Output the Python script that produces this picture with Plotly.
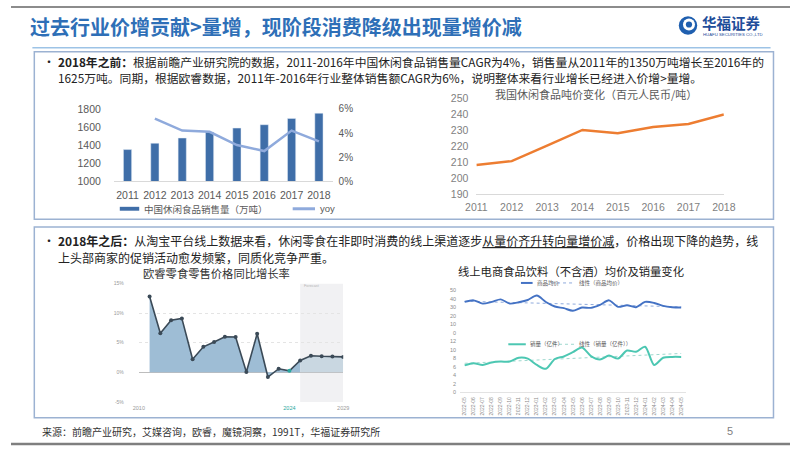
import numpy as np
import plotly.graph_objects as go

W, H = 802, 452
CJK = "Noto Sans CJK SC"
SANS = "Liberation Sans, Noto Sans CJK SC"

# chart A: 中国休闲食品销售量（万吨）与 yoy
years_a = ['2011', '2012', '2013', '2014', '2015', '2016', '2017', '2018']
volume_a = [1350, 1420, 1478, 1545, 1588, 1625, 1695, 1752]
yoy_years = years_a[1:]
yoy_a = [0.052, 0.042, 0.041, 0.030, 0.025, 0.042, 0.033]

# chart B: 我国休闲食品吨价变化（百元人民币/吨）
price_b = [208.2, 210.6, 220.3, 230.2, 228.2, 232.0, 234.0, 240.0]

# chart C: 欧睿零食零售价格同比增长率 (%)
years_c = list(range(2011, 2030))
growth_c = [12.8, 6.6, 8.8, 9.1, 2.2, 4.3, 5.1, 6.0, 5.95, 0.05, 6.5, -0.8,
            0.6, 0.25, 2.0, 2.8, 2.7, 2.65, 2.6]
forecast_from = 2025

# chart D: 线上电商食品饮料（不含酒）均价及销量变化
months_d = ['2022-05', '2022-06', '2022-07', '2022-08', '2022-09', '2022-10',
            '2022-11', '2022-12', '2023-01', '2023-02', '2023-03', '2023-04',
            '2023-05', '2023-06', '2023-07', '2023-08', '2023-09', '2023-10',
            '2023-11', '2023-12', '2024-01', '2024-02', '2024-03', '2024-04',
            '2024-05']
avg_price_d = [36.2, 38.1, 34.2, 36.2, 39.2, 34.2, 35.8, 38.5, 43.8, 36.2,
               30.8, 28.8, 25.8, 29.6, 29.2, 32.7, 38.1, 30.4, 32.3, 30.0,
               36.2, 35.0, 31.5, 30.0, 29.6]
sales_d = [6.3, 6.8, 6.4, 7.0, 7.2, 7.2, 8.1, 7.9, 6.4, 5.5, 7.8, 8.4, 9.4,
           10.5, 8.5, 7.7, 8.6, 7.9, 9.8, 9.5, 10.7, 6.4, 8.1, 8.3, 8.3]


def X(p):
    return p / W


def Y(p):
    return 1 - p / H


def dom_x(a, b):
    return [X(a), X(b)]


def dom_y(top, bottom):
    return [Y(bottom), Y(top)]


fig = go.Figure()

# ---- chart A
fig.add_trace(go.Bar(x=years_a, y=volume_a, xaxis='x', yaxis='y', width=0.3,
                     marker_color='#3F6EA8', showlegend=False))
fig.add_trace(go.Scatter(x=yoy_years, y=yoy_a, xaxis='x', yaxis='y2', mode='lines',
                         line=dict(color='#8FAADC', width=2.5), showlegend=False))

# ---- chart B
fig.add_trace(go.Scatter(x=years_a, y=price_b, xaxis='x3', yaxis='y3', mode='lines',
                         line=dict(color='#ED7D31', width=2.5), showlegend=False))

# ---- chart C
k = years_c.index(forecast_from)
fig.add_trace(go.Scatter(x=years_c[:k + 1], y=growth_c[:k + 1], xaxis='x4', yaxis='y4',
                         mode='none', fill='tozeroy', fillcolor='#9EBDD5',
                         showlegend=False))
fig.add_trace(go.Scatter(x=years_c[k:], y=growth_c[k:], xaxis='x4', yaxis='y4',
                         mode='none', fill='tozeroy', fillcolor='#C9D7E1',
                         showlegend=False))
mcols = ['#2BA8A0' if y == 2024 else '#3B4A57' for y in years_c]
fig.add_trace(go.Scatter(x=years_c, y=growth_c, xaxis='x4', yaxis='y4',
                         mode='lines+markers', line=dict(color='#3B4A57', width=1.6),
                         marker=dict(size=4, color=mcols), showlegend=False))

# ---- chart D
idx = np.arange(len(months_d))
tr_p = np.polyval(np.polyfit(idx, avg_price_d, 1), idx)
tr_s = np.polyval(np.polyfit(idx, sales_d, 1), idx)
fig.add_trace(go.Scatter(x=months_d, y=tr_p, xaxis='x5', yaxis='y5', mode='lines',
                         line=dict(color='#8FAADC', width=1, dash='dot'), showlegend=False))
fig.add_trace(go.Scatter(x=months_d, y=avg_price_d, xaxis='x5', yaxis='y5', mode='lines',
                         line=dict(color='#4472C4', width=1.9, shape='spline', smoothing=0.8),
                         showlegend=False))
fig.add_trace(go.Scatter(x=months_d, y=tr_s, xaxis='x6', yaxis='y6', mode='lines',
                         line=dict(color='#9ED8CE', width=1, dash='dot'), showlegend=False))
fig.add_trace(go.Scatter(x=months_d, y=sales_d, xaxis='x6', yaxis='y6', mode='lines',
                         line=dict(color='#4CC7B2', width=2, shape='spline', smoothing=0.8),
                         showlegend=False))

gray_tick = dict(family=SANS, size=10.5, color='#595959')
tiny = dict(family=SANS, size=5.5, color='#8C8C8C')

fig.update_layout(
    width=W, height=H, margin=dict(l=0, r=0, t=0, b=0),
    paper_bgcolor='white', plot_bgcolor='rgba(0,0,0,0)',
    # A
    xaxis=dict(domain=dom_x(105.9, 331.1), type='category', anchor='y',
               showline=True, linecolor='#D9D9D9', linewidth=1, ticks='',
               tickfont=gray_tick, ticklabelstandoff=4),
    yaxis=dict(domain=dom_y(105.7, 180), range=[1000, 1800], dtick=200, anchor='x',
               showgrid=False, zeroline=False, tickfont=gray_tick,
               ticklabelstandoff=12),
    yaxis2=dict(overlaying='y', side='right', anchor='x', range=[0, 0.06],
                tickvals=[0, 0.02, 0.04, 0.06], ticktext=['0%', '2%', '4%', '6%'],
                showgrid=False, zeroline=False,
                tickfont=dict(family=SANS, size=10, color='#595959'),
                ticklabelstandoff=5),
    # B
    xaxis3=dict(domain=dom_x(479.1, 733.9), type='category', anchor='y3',
                showline=True, linecolor='#D9D9D9', linewidth=1, ticks='',
                tickfont=dict(family=SANS, size=10.5, color='#7F7F7F'),
                ticklabelstandoff=4),
    yaxis3=dict(domain=dom_y(95, 193), range=[190, 250], dtick=10, anchor='x3',
                showgrid=False, zeroline=False,
                tickfont=dict(family=SANS, size=10.5, color='#7F7F7F'),
                ticklabelstandoff=7),
    # C
    xaxis4=dict(domain=dom_x(131.6, 342), range=[2010, 2029], anchor='y4',
                tickvals=[2010, 2024, 2029],
                ticktext=['2010', '<span style="color:#2BA8A0">2024</span>', '2029'],
                showgrid=False, zeroline=False, showline=False, ticks='',
                tickfont=dict(family=SANS, size=5.5, color='#9A9A9A'),
                ticklabelstandoff=2),
    yaxis4=dict(domain=dom_y(285, 406.7), range=[-5, 15], anchor='x4',
                tickvals=[-5, 0, 5, 10, 15], ticktext=['-5%', '0%', '5%', '10%', '15%'],
                showgrid=True, gridcolor='#E4E4E4', griddash='dot', gridwidth=1,
                zeroline=True, zerolinecolor='#BDBDBD', zerolinewidth=1,
                tickfont=dict(family=SANS, size=5, color='#9A9A9A'),
                ticklabelstandoff=14),
    # D top
    xaxis5=dict(domain=dom_x(462.4, 694.6), type='category', anchor='y5',
                range=[-0.5, len(months_d) - 0.5], showticklabels=False,
                showgrid=False, showline=False, ticks=''),
    yaxis5=dict(domain=dom_y(292, 335.5), range=[0, 50], dtick=10, anchor='x5',
                showgrid=False, zeroline=False, tickfont=tiny, ticklabelstandoff=3),
    # D bottom
    xaxis6=dict(domain=dom_x(462.4, 694.6), type='category', anchor='y6',
                range=[-0.5, len(months_d) - 0.5], tickangle=-90,
                showgrid=False, showline=True, linecolor='#E3E3E3', ticks='',
                tickfont=dict(family=SANS, size=5, color='#8C8C8C'),
                ticklabelstandoff=2),
    yaxis6=dict(domain=dom_y(344.3, 396.7), range=[0, 12], dtick=2, anchor='x6',
                showgrid=False, zeroline=False, tickfont=tiny, ticklabelstandoff=3),
)

shapes = []


def pline(x0, y0, x1, y1, color, width=1, dash='solid'):
    shapes.append(dict(type='line', xref='paper', yref='paper',
                       x0=X(x0), y0=Y(y0), x1=X(x1), y1=Y(y1),
                       line=dict(color=color, width=width, dash=dash)))


def prect(x0, y0, x1, y1, line=None, fill=None, width=1.5, layer='above'):
    shapes.append(dict(type='rect', xref='paper', yref='paper',
                       x0=X(x0), y0=Y(y0), x1=X(x1), y1=Y(y1), layer=layer,
                       line=dict(color=line or 'rgba(0,0,0,0)', width=width if line else 0),
                       fillcolor=fill or 'rgba(0,0,0,0)'))


# frame / title rule / boxes
pline(0, 1, W, 1, '#8C8C8C', 2)
pline(0, 450, W, 450, '#7F7F7F', 2.5)
pline(22, 43, 782, 43, '#9DC3E6', 1.5)
prect(24, 47, 785, 219, line='#9CB2D2', width=1.5)
prect(24, 227, 785, 423, line='#9CB2D2', width=1.5)

# chart C forecast band
shapes.append(dict(type='rect', xref='x4', yref='y4', x0=forecast_from, x1=2029,
                   y0=-5, y1=15, fillcolor='#F1F1F3', line=dict(width=0), layer='below'))

# legend swatches
prect(112, 206.3, 132, 210.3, fill='#3F6EA8', layer='above')
pline(290, 208.3, 313, 208.3, '#8FAADC', 3)
pline(525, 284.5, 537, 284.5, '#4472C4', 2)
pline(556, 284.5, 580, 284.5, '#8FAADC', 1, 'dot')
pline(512, 347.5, 530, 347.5, '#4CC7B2', 2)
pline(558, 347.5, 581, 347.5, '#9ED8CE', 1, 'dot')

# logo mark
cx, cy, r = 697, 20, 9.5
shapes.append(dict(type='circle', xref='paper', yref='paper',
                   x0=X(cx - r), x1=X(cx + r), y0=Y(cy + r), y1=Y(cy - r),
                   fillcolor='#1F5FAF', line=dict(width=0)))
r2 = 6.2
shapes.append(dict(type='circle', xref='paper', yref='paper',
                   x0=X(cx - r2 + 1), x1=X(cx + r2 + 1), y0=Y(cy + r2 - 1), y1=Y(cy - r2 - 1),
                   fillcolor='white', line=dict(width=0)))
r3 = 3.2
shapes.append(dict(type='circle', xref='paper', yref='paper',
                   x0=X(cx - r3 + 1), x1=X(cx + r3 + 1), y0=Y(cy + r3 - 1), y1=Y(cy - r3 - 1),
                   fillcolor='#1F5FAF', line=dict(width=0)))

fig.update_layout(shapes=shapes)

ann = []


def text(x, y, s, size, color='#222222', anchor='left', family=CJK):
    ann.append(dict(x=X(x), y=Y(y), xref='paper', yref='paper', text=s,
                    showarrow=False, xanchor=anchor, yanchor='middle',
                    font=dict(family=family, size=size, color=color)))


text(18, 21, '<b>过去行业价增贡献>量增，现阶段消费降级出现量增价减</b>', 20, '#2E6FB7')
text(709, 17, '<b>华福证券</b>', 14.5, '#1F4E9A')
text(710, 29, 'HUAFU SECURITIES CO.,LTD', 4.3, '#1F4E9A', family=SANS)

text(31, 57, '•', 12, '#222222')
text(46, 57, '<b>2018年之前：</b>根据前瞻产业研究院的数据，2011-2016年中国休闲食品销售量CAGR为4%，'
     '销售量从2011年的1350万吨增长至2016年的', 11.8)
text(46, 73.5, '1625万吨。同期，根据欧睿数据，2011年-2016年行业整体销售额CAGR为6%，'
     '说明整体来看行业增长已经进入价增>量增。', 11.8)

text(602, 90.5, '我国休闲食品吨价变化（百元人民币/吨）', 11, '#595959', 'center')
text(135, 208.3, '中国休闲食品销售量（万吨）', 9.5, '#595959')
text(316, 208.3, 'yoy', 9.5, '#595959', family=SANS)

text(31, 241, '•', 12, '#222222')
text(46, 241, '<b>2018年之后：</b>从淘宝平台线上数据来看，休闲零食在非即时消费的线上渠道逐步'
     '<u>从量价齐升转向量增价减</u>，价格出现下降的趋势，线', 12)
text(46, 258, '上头部商家的促销活动愈发频繁，同质化竞争严重。', 12)

text(212, 274, '欧睿零食零售价格同比增长率', 11.3, '#333333', 'center')
text(577, 272, '线上电商食品饮料（不含酒）均价及销量变化', 11.3, '#222222', 'center')
text(300, 287.5, 'Forecast', 3.8, '#B5B5B5', family=SANS)

text(539, 284.5, '商品均价', 5.5, '#595959')
text(583, 284.5, '线性（商品均价）', 5.5, '#595959')
text(532, 347.5, '销量（亿件）', 5.5, '#595959')
text(583, 347.5, '线性（销量（亿件））', 5.5, '#595959')

text(30, 437, '来源：前瞻产业研究，艾媒咨询，欧睿，魔镜洞察，1991T，华福证券研究所', 10, '#333333')
text(740, 437, '5', 11, '#7F7F7F', 'center', SANS)

fig.update_layout(annotations=ann)

# plotly's page keeps the browser's default 8px body margin; drop it so the
# figure sits at the window origin
fig.write_html("out.html", config={'displayModeBar': False},
               post_script="document.body.style.margin='0px';")
